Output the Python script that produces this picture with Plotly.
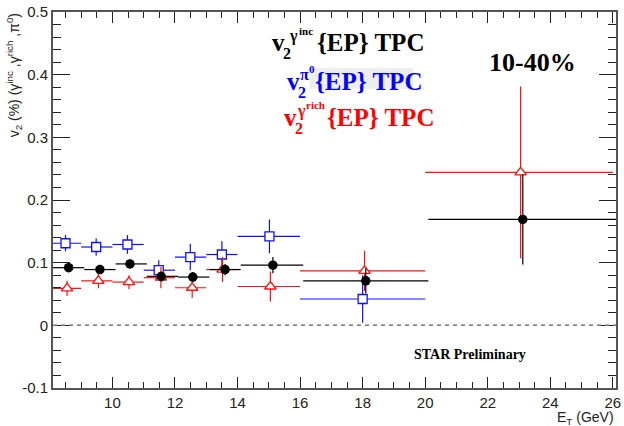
import plotly.graph_objects as go

# ---------------- data ----------------
# pi0 (blue, open squares)
pi0_x = [8.5, 9.48, 10.48, 11.48, 12.49, 13.5, 15.02, 18.0]
pi0_y = [0.131, 0.125, 0.129, 0.088, 0.109, 0.113, 0.142, 0.042]
pi0_ey = [0.013, 0.014, 0.015, 0.016, 0.021, 0.021, 0.027, 0.038]
pi0_lo = [8.0, 9.0, 10.0, 11.0, 12.0, 13.0, 14.0, 16.0]
pi0_hi = [9.0, 10.0, 11.0, 12.0, 13.0, 14.0, 16.0, 20.0]

# inclusive gamma (black, filled circles)
inc_x = [8.6, 9.6, 10.56, 11.56, 12.57, 13.6, 15.13, 18.1, 23.12]
inc_y = [0.092, 0.089, 0.098, 0.078, 0.077, 0.089, 0.096, 0.071, 0.169]
inc_ey = [0.006, 0.006, 0.007, 0.008, 0.008, 0.009, 0.013, 0.02, 0.072]
inc_lo = [8.1, 9.1, 10.1, 11.1, 12.1, 13.1, 14.1, 16.1, 20.1]
inc_hi = [9.1, 10.1, 11.1, 12.1, 13.1, 14.1, 16.1, 20.1, 26.1]

# rich gamma (red, open triangles)
rich_x = [8.55, 9.55, 10.53, 11.55, 12.55, 13.52, 15.05, 18.06, 23.05]
rich_y = [0.059, 0.071, 0.069, 0.076, 0.060, 0.089, 0.062, 0.087, 0.244]
rich_ey = [0.012, 0.012, 0.011, 0.017, 0.016, 0.020, 0.024, 0.032, 0.137]
rich_lo = [8.0, 9.0, 10.0, 11.0, 12.0, 13.0, 14.0, 16.0, 20.0]
rich_hi = [9.0, 10.0, 11.0, 12.0, 13.0, 14.0, 16.0, 20.0, 26.0]

x_tick_vals = [10, 12, 14, 16, 18, 20, 22, 24, 26]
x_tick_text = ["10", "12", "14", "16", "18", "20", "22", "24", "26"]
y_tick_vals = [-0.1, 0.0, 0.1, 0.2, 0.3, 0.4, 0.5]
y_tick_text = ["-0.1", "0", "0.1", "0.2", "0.3", "0.4", "0.5"]

# ---------------- layout geometry ----------------
W, H = 624, 426
L, R, T, B = 53, 621, 11, 388

def px(xp):
    return (xp - L) / (R - L)

def py(yp):
    return (B - yp) / (B - T)

SERIF = "Liberation Serif"
SANS = "Liberation Sans"

fig = go.Figure()

def add_series(x, y, ey, lo, hi, color, symbol, size, fill, lw):
    exm = [xi - a for xi, a in zip(x, lo)]
    exp = [b - xi for xi, b in zip(x, hi)]
    fig.add_trace(go.Scatter(
        x=x, y=y, mode="markers",
        marker=dict(symbol=symbol, size=size, color=fill,
                    line=dict(color=color, width=lw)),
        error_y=dict(type="data", array=ey, symmetric=True, color=color,
                     thickness=1.2, width=0),
        error_x=dict(type="data", array=exp, arrayminus=exm, color=color,
                     thickness=1.2, width=0),
        showlegend=False, cliponaxis=True,
    ))

add_series(pi0_x, pi0_y, pi0_ey, pi0_lo, pi0_hi, "#1010ff", "square", 9, "white", 1.3)
add_series(rich_x, rich_y, rich_ey, rich_lo, rich_hi, "#ff1010", "triangle-up", 10, "white", 1.3)
add_series(inc_x, inc_y, inc_ey, inc_lo, inc_hi, "black", "circle", 9.5, "black", 0)

# dashed zero line
fig.add_shape(type="line", xref="paper", x0=0, x1=1, yref="y", y0=0, y1=0,
              line=dict(color="#777777", width=1.5, dash="4px,4px"))

# light gray box behind the pi0 label
fig.add_shape(type="rect", xref="paper", yref="paper",
              x0=px(312), x1=px(416), y0=py(88), y1=py(67),
              fillcolor="#eeeeee", line=dict(width=0), layer="below")

ann = []

def txt(text, xl, yc, size, color, bold=True, family=SERIF, xanchor="left"):
    t = f"<b>{text}</b>" if bold else text
    ann.append(dict(text=t, x=px(xl), y=py(yc), xref="paper", yref="paper",
                    xanchor=xanchor, yanchor="middle", showarrow=False,
                    font=dict(family=family, size=size, color=color)))

MAIN, SUB, SMALL = 25, 16, 11
# black label
txt("v", 272, 42, MAIN, "black")
txt("2", 283, 53, SUB, "black")
txt("γ", 289, 35, SUB, "black")
txt("inc", 299, 30, SMALL, "black")
txt("{EP} TPC", 317, 42, MAIN, "black")
# blue label
txt("v", 287, 81, MAIN, "#0000ff")
txt("2", 298, 92, SUB, "#0000ff")
txt("π", 300, 74, SUB, "#0000ff")
txt("0", 309, 68, SMALL, "#0000ff")
txt("{EP} TPC", 315, 81, MAIN, "#0000ff")
# red label
txt("v", 284, 117, MAIN, "#ff0000")
txt("2", 295, 128, SUB, "#ff0000")
txt("γ", 297, 110, SUB, "#ff0000")
txt("rich", 306, 104, SMALL, "#ff0000")
txt("{EP} TPC", 327, 117, MAIN, "#ff0000")

txt("10-40%", 491, 62, 26, "black")
txt("STAR Preliminary", 415, 354, 14, "black")

# axis titles
ann.append(dict(text="v<sub>2</sub> (%) (γ<sup>inc</sup> ,γ<sup>rich</sup> ,π<sup>0</sup>)",
                x=px(14), y=py(10), xref="paper", yref="paper",
                xanchor="center", yanchor="top", textangle=-90, showarrow=False,
                font=dict(family=SANS, size=14, color="#222222")))
ann.append(dict(text="E<sub>T</sub> (GeV)", x=px(621), y=py(418), xref="paper", yref="paper",
                xanchor="right", yanchor="middle", showarrow=False,
                font=dict(family=SANS, size=14, color="#222222")))

fig.update_layout(
    width=W, height=H, autosize=False,
    margin=dict(l=L, r=W - R, t=T, b=H - B, pad=0),
    paper_bgcolor="white", plot_bgcolor="white",
    annotations=ann, showlegend=False,
)

fig.update_xaxes(
    range=[8.1, 26.1], showgrid=False, zeroline=False,
    showline=True, linecolor="#555555", linewidth=2, mirror="allticks",
    ticks="inside", ticklen=11, tickwidth=1, tickcolor="#222222",
    tickvals=x_tick_vals, ticktext=x_tick_text, ticklabeloverflow="allow",
    tickfont=dict(family=SANS, size=15, color="#222222"),
    minor=dict(dtick=0.5, tick0=0, ticks="inside", ticklen=6, tickwidth=1, tickcolor="#222222"),
)
fig.update_yaxes(
    range=[-0.1, 0.5], showgrid=False, zeroline=False,
    showline=True, linecolor="#555555", linewidth=2, mirror="allticks",
    ticks="inside", ticklen=17, tickwidth=1, tickcolor="#222222",
    tickvals=y_tick_vals, ticktext=y_tick_text,
    tickfont=dict(family=SANS, size=15, color="#222222"),
    minor=dict(dtick=0.02, tick0=0, ticks="inside", ticklen=8, tickwidth=1, tickcolor="#222222"),
)

fig.write_html("out.html")
